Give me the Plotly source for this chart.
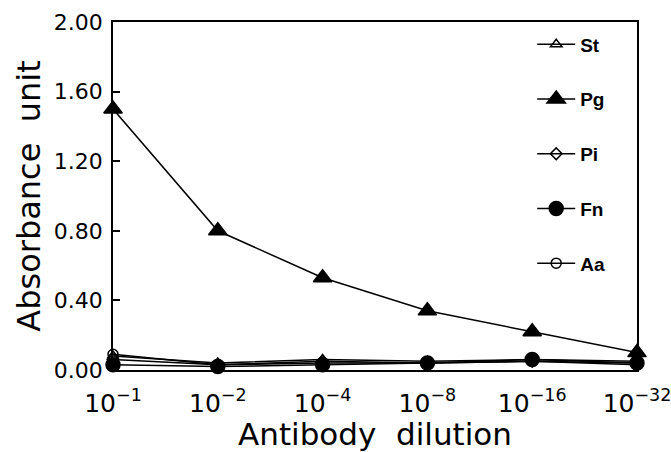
import plotly.graph_objects as go

dilution_labels = ["10<sup>−1</sup>", "10<sup>−2</sup>", "10<sup>−4</sup>",
                   "10<sup>−8</sup>", "10<sup>−16</sup>", "10<sup>−32</sup>"]
st = [0.08, 0.04, 0.06, 0.05, 0.06, 0.05]
pg = [1.50, 0.80, 0.53, 0.34, 0.22, 0.10]
pi = [0.06, 0.03, 0.05, 0.04, 0.05, 0.04]
fn = [0.03, 0.02, 0.03, 0.04, 0.06, 0.04]
aa = [0.09, 0.03, 0.04, 0.04, 0.05, 0.03]

x = list(range(len(dilution_labels)))

series = [
    ("St", st, "triangle-up-open", 10),
    ("Pg", pg, "triangle-up", 16),
    ("Pi", pi, "diamond-open", 9),
    ("Fn", fn, "circle", 14),
    ("Aa", aa, "circle-open", 10),
]

FONT = "DejaVu Sans, Liberation Sans, Arial, sans-serif"

fig = go.Figure()
for i, (name, vals, sym, sz) in enumerate(series):
    fig.add_trace(go.Scatter(
        x=x, y=vals, name=name, mode="lines+markers",
        line=dict(color="black", width=1.5),
        marker=dict(symbol=sym, size=sz, color="black",
                    line=dict(color="black", width=1.5)),
        legendgroup=name, cliponaxis=False,
    ))

fig.update_layout(
    width=671, height=452,
    margin=dict(l=113, r=34, t=22, b=82),
    paper_bgcolor="white", plot_bgcolor="white",
    font=dict(family=FONT, color="black"),
    showlegend=True,
    legend=dict(x=0.80, y=0.99, xanchor="left", yanchor="top",
                bgcolor="rgba(0,0,0,0)", traceorder="grouped",
                tracegroupgap=27, itemwidth=38, maxheight=1.0,
                font=dict(size=19, family="Liberation Sans, Arial, sans-serif", weight="bold")),
    xaxis=dict(
        range=[0, 5], tickmode="array", tickvals=x, ticktext=dilution_labels,
        showline=True, linecolor="black", linewidth=1.5, mirror=True,
        ticks="", showgrid=False, zeroline=False, tickangle=0,
        tickfont=dict(size=25), automargin=False, ticklabelstandoff=10,
        ticklabeloverflow="allow",
        title=dict(text="Antibody  dilution", font=dict(size=31), standoff=5),
    ),
    yaxis=dict(
        range=[0, 2.0], tickvals=[0, 0.4, 0.8, 1.2, 1.6, 2.0],
        ticktext=["0.00", "0.40", "0.80", "1.20", "1.60", "2.00"],
        showline=True, linecolor="black", linewidth=1.5, mirror=True,
        ticks="inside", ticklen=7, tickcolor="black", tickwidth=1.5,
        showgrid=False, zeroline=False, automargin=False,
        tickfont=dict(size=22), ticklabelstandoff=4,
        title=dict(text="Absorbance  unit", font=dict(size=32), standoff=4),
    ),
)

fig.write_html("out.html", config={"displayModeBar": False},
               post_script="document.body.style.margin='0';")
